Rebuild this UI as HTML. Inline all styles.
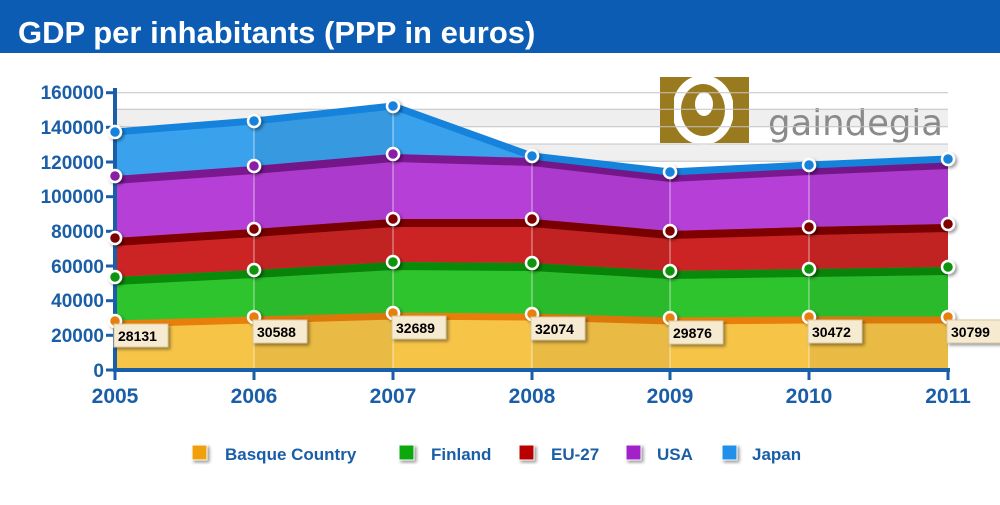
<!DOCTYPE html>
<html><head><meta charset="utf-8"><style>
body{margin:0;width:1000px;height:500px;background:#fff;overflow:hidden;font-family:"Liberation Sans",Arial,sans-serif}
</style></head><body>
<svg width="1000" height="500" viewBox="0 0 1000 500" xmlns="http://www.w3.org/2000/svg" font-family="Liberation Sans, Arial, sans-serif">
<defs>
<filter id="sh" x="-10%" y="-10%" width="130%" height="140%"><feDropShadow dx="2" dy="2" stdDeviation="1.5" flood-color="#000" flood-opacity="0.4"/></filter>
<clipPath id="pc"><rect x="115" y="60" width="833" height="310"/></clipPath>
<clipPath id="ac"><polygon points="115,132 254,121 393,106 532,156 670,172 809,165 948,159 948,370 115,370"/></clipPath>
</defs>
<rect x="0" y="0" width="1000" height="53" fill="#0b5cb2"/>
<text x="18" y="43" font-size="31" font-weight="bold" fill="#fff">GDP per inhabitants (PPP in euros)</text>
<rect x="115" y="109.3" width="833" height="17.3" fill="#efefef"/>
<rect x="115" y="144" width="833" height="17.3" fill="#efefef"/>
<!-- logo -->
<rect x="660" y="77" width="89" height="66" fill="#9a7a1e"/>
<ellipse cx="703" cy="110" rx="31" ry="35" fill="#fff"/>
<rect x="660" y="77" width="14" height="66" fill="#9a7a1e"/>
<rect x="733" y="77" width="16" height="66" fill="#9a7a1e"/>
<ellipse cx="703" cy="110" rx="22" ry="26" fill="#9a7a1e"/>
<ellipse cx="704" cy="104" rx="9" ry="12" fill="#fff"/>
<text x="768" y="135" font-size="36" fill="#8a8a8a" textLength="175" lengthAdjust="spacingAndGlyphs" font-family="DejaVu Sans, sans-serif">gaindegia</text>
<g stroke="#c4c4c4" stroke-width="1">
<line x1="115" x2="948" y1="92.7" y2="92.7"/><line x1="115" x2="948" y1="109.3" y2="109.3"/>
<line x1="115" x2="948" y1="126.7" y2="126.7"/><line x1="115" x2="948" y1="144" y2="144"/>
<line x1="115" x2="948" y1="161.3" y2="161.3"/>
</g>
<g clip-path="url(#pc)">
<polygon points="115,132 254,121 393,106 532,156 670,172 809,165 948,159 948,370 115,370" fill="#3aa2ec"/>
<polygon points="115,176 254,166 393,154 532,158 670,174 809,167 948,161 948,370 115,370" fill="#b63fd8"/>
<polyline points="115,180 254,170 393,158 532,162 670,178 809,171 948,165" fill="none" stroke="#7a1890" stroke-width="8"/>
<polygon points="115,238 254,229 393,219 532,219 670,231 809,227 948,224 948,370 115,370" fill="#cc2424"/>
<polyline points="115,242 254,233 393,223 532,223 670,235 809,231 948,228" fill="none" stroke="#7e0000" stroke-width="8"/>
<polygon points="115,277 254,270 393,262 532,263 670,271 809,269 948,267 948,370 115,370" fill="#2ec42e"/>
<polyline points="115,281 254,274 393,266 532,267 670,275 809,273 948,271" fill="none" stroke="#0a8a0a" stroke-width="8"/>
<polygon points="115,321 254,317 393,313 532,314 670,318 809,317 948,317 948,370 115,370" fill="#f6c548"/>
<polyline points="115,324 254,320 393,316 532,317 670,321 809,320 948,320" fill="none" stroke="#e77f0a" stroke-width="7"/>
<g clip-path="url(#ac)">
<rect x="254" y="90" width="139" height="280" fill="#000" opacity="0.05"/>
<rect x="532" y="90" width="138" height="280" fill="#000" opacity="0.05"/>
<rect x="809" y="90" width="139" height="280" fill="#000" opacity="0.05"/>
<g stroke="#fff" stroke-opacity="0.4" stroke-width="1.5">
<line x1="254" x2="254" y1="90" y2="370"/><line x1="393" x2="393" y1="90" y2="370"/><line x1="532" x2="532" y1="90" y2="370"/><line x1="670" x2="670" y1="90" y2="370"/><line x1="809" x2="809" y1="90" y2="370"/>
</g>
</g>
</g>
<polyline points="115,132 254,121 393,106 532,156 670,172 809,165 948,159" fill="none" stroke="#1582dc" stroke-width="7" stroke-linejoin="round"/>
<g stroke="#1a5ea8" stroke-width="4">
<line x1="115" y1="88" x2="115" y2="372"/>
<line x1="113" y1="370" x2="950" y2="370"/>
</g>
<g stroke="#1a5ea8" stroke-width="3">
<line x1="106" x2="115" y1="92.7" y2="92.7"/><line x1="106" x2="115" y1="127.3" y2="127.3"/><line x1="106" x2="115" y1="162" y2="162"/><line x1="106" x2="115" y1="196.7" y2="196.7"/><line x1="106" x2="115" y1="231.3" y2="231.3"/><line x1="106" x2="115" y1="266" y2="266"/><line x1="106" x2="115" y1="300.7" y2="300.7"/><line x1="106" x2="115" y1="335.3" y2="335.3"/><line x1="106" x2="115" y1="370" y2="370"/>
<line x1="115" x2="115" y1="370" y2="380"/><line x1="254" x2="254" y1="370" y2="380"/><line x1="393" x2="393" y1="370" y2="380"/><line x1="532" x2="532" y1="370" y2="380"/><line x1="670" x2="670" y1="370" y2="380"/><line x1="809" x2="809" y1="370" y2="380"/><line x1="948" x2="948" y1="370" y2="380"/>
</g>
<g font-size="19" font-weight="bold" fill="#1a5ea8" text-anchor="end">
<text x="104" y="99">160000</text><text x="104" y="134">140000</text><text x="104" y="169">120000</text><text x="104" y="203">100000</text><text x="104" y="238">80000</text><text x="104" y="273">60000</text><text x="104" y="307">40000</text><text x="104" y="342">20000</text><text x="104" y="377">0</text>
</g>
<g font-size="21" font-weight="bold" fill="#1a5ea8" text-anchor="middle">
<text x="115" y="403">2005</text><text x="254" y="403">2006</text><text x="393" y="403">2007</text><text x="532" y="403">2008</text><text x="670" y="403">2009</text><text x="809" y="403">2010</text><text x="948" y="403">2011</text>
</g>
<g stroke="#fff" stroke-width="2.5" filter="url(#sh)">
<g fill="#1582dc"><circle cx="115" cy="132" r="6"/><circle cx="254" cy="121" r="6"/><circle cx="393" cy="106" r="6"/><circle cx="532" cy="156" r="6"/><circle cx="670" cy="172" r="6"/><circle cx="809" cy="165" r="6"/><circle cx="948" cy="159" r="6"/></g>
<g fill="#8a1ea6"><circle cx="115" cy="176" r="6"/><circle cx="254" cy="166" r="6"/><circle cx="393" cy="154" r="6"/></g>
<g fill="#800000"><circle cx="115" cy="238" r="6"/><circle cx="254" cy="229" r="6"/><circle cx="393" cy="219" r="6"/><circle cx="532" cy="219" r="6"/><circle cx="670" cy="231" r="6"/><circle cx="809" cy="227" r="6"/><circle cx="948" cy="224" r="6"/></g>
<g fill="#0a960a"><circle cx="115" cy="277" r="6"/><circle cx="254" cy="270" r="6"/><circle cx="393" cy="262" r="6"/><circle cx="532" cy="263" r="6"/><circle cx="670" cy="271" r="6"/><circle cx="809" cy="269" r="6"/><circle cx="948" cy="267" r="6"/></g>
<g fill="#e77f0a"><circle cx="115" cy="321" r="6"/><circle cx="254" cy="317" r="6"/><circle cx="393" cy="313" r="6"/><circle cx="532" cy="314" r="6"/><circle cx="670" cy="318" r="6"/><circle cx="809" cy="317" r="6"/><circle cx="948" cy="317" r="6"/></g>
</g>
<g font-size="14" font-weight="bold" fill="#000">
<g fill="#f6ead0" stroke="#d8c9a0" stroke-width="1" filter="url(#sh)">
<rect x="114" y="324" width="54" height="23"/><rect x="253" y="320" width="54" height="23"/><rect x="392" y="316" width="54" height="23"/><rect x="531" y="317" width="54" height="23"/><rect x="669" y="321" width="54" height="23"/><rect x="808" y="320" width="54" height="23"/><rect x="947" y="320" width="54" height="23"/>
</g>
<text x="118" y="341">28131</text><text x="257" y="337">30588</text><text x="396" y="333">32689</text><text x="535" y="334">32074</text><text x="673" y="338">29876</text><text x="812" y="337">30472</text><text x="951" y="337">30799</text>
</g>
<g filter="url(#sh)" stroke="#fff" stroke-width="1">
<rect x="192" y="445" width="15" height="15" fill="#f0a010"/>
<rect x="399" y="445" width="15" height="15" fill="#10a810"/>
<rect x="519" y="445" width="15" height="15" fill="#b80000"/>
<rect x="626" y="445" width="15" height="15" fill="#a020c8"/>
<rect x="722" y="445" width="15" height="15" fill="#2090e8"/>
</g>
<g font-size="17" font-weight="bold" fill="#1a5ea8">
<text x="225" y="460">Basque Country</text><text x="431" y="460">Finland</text><text x="551" y="460">EU-27</text><text x="657" y="460">USA</text><text x="752" y="460">Japan</text>
</g>
</svg>
</body></html>
